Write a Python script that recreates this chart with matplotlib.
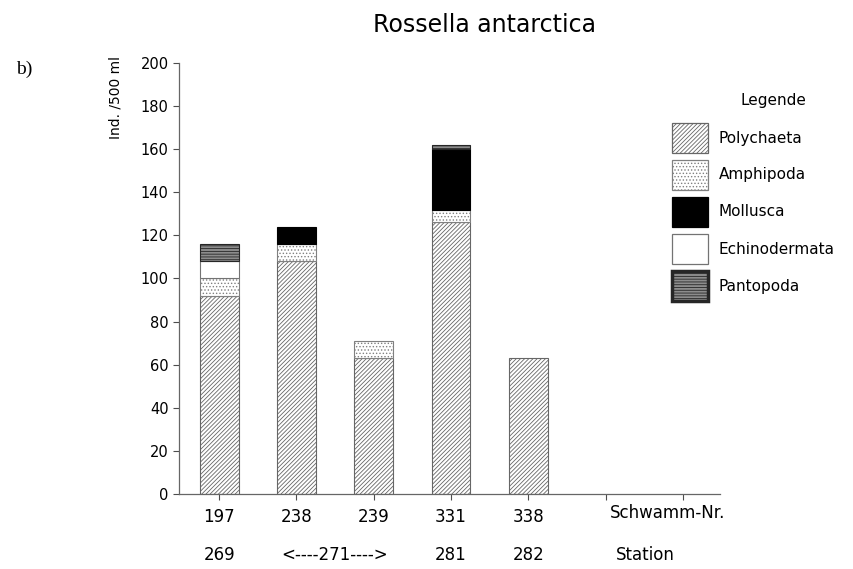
# Rossella antarctica - Begleitfauna je Schwamm
import matplotlib
matplotlib.use('Agg')
import matplotlib.pyplot as plt
from matplotlib.patches import Rectangle

plt.rcParams['font.family'] = ['DejaVu Sans']
plt.rcParams['hatch.linewidth'] = 0.6

schwamm = ['197', '238', '239', '331', '338']
station = ['269', '<----271---->', '281', '282']
station_pos = [0, 1.5, 3, 4]
gruppen = ['Polychaeta', 'Amphipoda', 'Mollusca', 'Echinodermata', 'Pantopoda']
werte = {
    'Polychaeta':    [92, 108, 63, 126, 63],
    'Amphipoda':     [8, 8, 8, 6, 0],
    'Mollusca':      [0, 8, 0, 28, 0],
    'Echinodermata': [8, 0, 0, 0, 0],
    'Pantopoda':     [8, 0, 0, 2, 0],
}
stil = {
    'Polychaeta':    dict(facecolor='white', edgecolor='0.4', hatch='////////'),
    'Amphipoda':     dict(facecolor='white', edgecolor='0.5', hatch='.....'),
    'Mollusca':      dict(facecolor='black', edgecolor='black', hatch=None),
    'Echinodermata': dict(facecolor='white', edgecolor='0.45', hatch=None),
    'Pantopoda':     dict(facecolor='0.55', edgecolor='0.15', hatch='------'),
}

fig = plt.figure(figsize=(8.54, 5.69), dpi=100)
ax = fig.add_axes([0.2096, 0.1318, 0.6335, 0.7575])

unten = [0] * len(schwamm)
for g in gruppen:
    xs = [i for i, v in enumerate(werte[g]) if v > 0]
    ax.bar(xs, [werte[g][i] for i in xs], width=0.5,
           bottom=[unten[i] for i in xs], linewidth=0.8, **stil[g])
    unten = [u + v for u, v in zip(unten, werte[g])]

ax.set_xlim(-0.52, 6.48)
ax.set_ylim(0, 200)
ax.set_yticks(range(0, 201, 20))
ax.set_xticks(range(7))
ax.set_xticklabels(schwamm + ['', ''])
ax.tick_params(axis='y', labelsize=10.5, length=4, color='0.3')
ax.tick_params(axis='x', labelsize=12, length=4, color='0.3', pad=6)
for s in ['top', 'right']:
    ax.spines[s].set_visible(False)
for s in ['left', 'bottom']:
    ax.spines[s].set_color('0.4')
    ax.spines[s].set_linewidth(0.9)

tr = ax.get_xaxis_transform()
ax.text(5.06, -0.044, 'Schwamm-Nr.', transform=tr, ha='left', va='center', fontsize=12)
for p, s in zip(station_pos, station):
    ax.text(p, -0.142, s, transform=tr, ha='center', va='center', fontsize=12)
ax.text(5.13, -0.142, 'Station', transform=tr, ha='left', va='center', fontsize=12)

ax.set_ylabel('Ind. /500 ml', fontsize=10)
ax.yaxis.set_label_coords(-0.118, 0.921)
ax.yaxis.label.set_va('center')

fig.text(0.4368, 0.956, 'Rossella antarctica', ha='left', va='center', fontsize=17)
fig.text(0.0375, 0.879, 'b)', ha='right', va='center', fontsize=14, family='Liberation Serif')

# Legende von Hand, damit die Kaestchen so gross wie im Original werden
W, H = 854, 569
fig.text(773 / W, 1 - 101 / H, 'Legende', ha='center', va='center', fontsize=11)
for k, g in enumerate(gruppen):
    oben = 123 + 37 * k
    lw = 2.5 if g == 'Pantopoda' else 0.9
    fig.patches.append(Rectangle((672 / W, 1 - (oben + 30) / H), 36 / W, 30 / H,
                                 transform=fig.transFigure, linewidth=lw, **stil[g]))
    fig.text(719 / W, 1 - (oben + 15) / H, g, ha='left', va='center', fontsize=11)

plt.savefig('out.png', dpi=100)
